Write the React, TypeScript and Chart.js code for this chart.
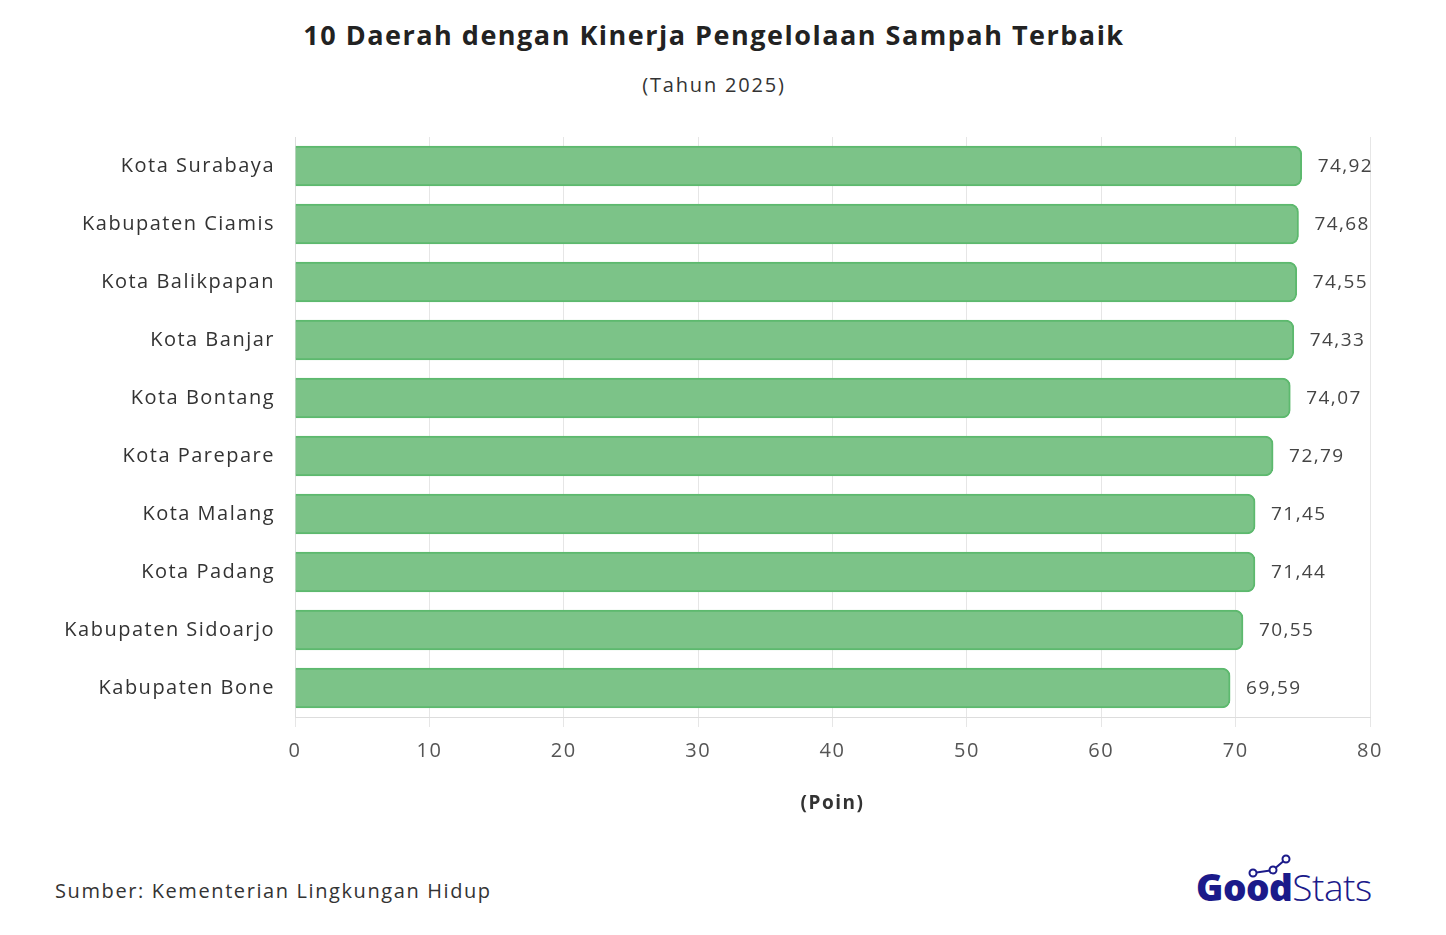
import React, { useEffect, useRef } from "react";
import { Chart, registerables } from "chart.js";

Chart.register(...registerables);

const categories = [
  "Kota Surabaya",
  "Kabupaten Ciamis",
  "Kota Balikpapan",
  "Kota Banjar",
  "Kota Bontang",
  "Kota Parepare",
  "Kota Malang",
  "Kota Padang",
  "Kabupaten Sidoarjo",
  "Kabupaten Bone",
];
const values = [74.92, 74.68, 74.55, 74.33, 74.07, 72.79, 71.45, 71.44, 70.55, 69.59];
const xTicks = [0, 10, 20, 30, 40, 50, 60, 70, 80];

const titleText = "10 Daerah dengan Kinerja Pengelolaan Sampah Terbaik";
const subtitleText = "(Tahun 2025)";
const axisTitle = "(Poin)";
const sourceText = "Sumber: Kementerian Lingkungan Hidup";

const FONT = "'Open Sans', 'Noto Sans', sans-serif";

const spacingPlugin = {
  id: "letterSpacing",
  beforeDraw(chart: any) {
    (chart.ctx as any).letterSpacing = "1.5px";
  },
};

const valueLabelPlugin = {
  id: "valueLabels",
  afterDatasetsDraw(chart: any) {
    const ctx = chart.ctx;
    const meta = chart.getDatasetMeta(0);
    ctx.save();
    (ctx as any).letterSpacing = "1.4px";
    ctx.font = `19px ${FONT}`;
    ctx.fillStyle = "#444";
    ctx.textAlign = "left";
    ctx.textBaseline = "middle";
    meta.data.forEach((bar: any, i: number) => {
      const v = values[i];
      ctx.fillText(v.toFixed(2).replace(".", ","), bar.x + 16, bar.y + 1);
    });
    ctx.restore();
  },
};

export default function App() {
  const ref = useRef<HTMLCanvasElement | null>(null);
  useEffect(() => {
    if (!ref.current) return;
    const chart = new Chart(ref.current, {
      type: "bar",
      data: {
        labels: categories,
        datasets: [
          {
            data: values,
            backgroundColor: "#7CC388",
            borderColor: "#5DB96E",
            borderWidth: 2,
            borderRadius: 8,
            borderSkipped: "start",
            barThickness: 40,
          },
        ],
      },
      options: {
        indexAxis: "y",
        responsive: false,
        animation: false,
        layout: { padding: { left: 0, right: 76, top: 137, bottom: 0 } },
        plugins: {
          legend: { display: false },
          tooltip: { enabled: false },
        },
        scales: {
          x: {
            min: 0,
            max: 80,
            afterBuildTicks(scale: any) {
              scale.ticks = xTicks.map((v) => ({ value: v }));
            },
            afterFit(scale: any) {
              scale.height = 98;
            },
            grid: { color: "#e6e6e6", tickLength: 10, lineWidth: 1 },
            border: { display: true, color: "#dddddd" },
            ticks: {
              font: { family: FONT, size: 20 },
              color: "#555",
              padding: 12,
            },
            title: {
              display: true,
              text: axisTitle,
              font: { family: FONT, size: 19, weight: "bold" },
              color: "#333",
              padding: { top: 0, bottom: 0 },
            },
          },
          y: {
            afterFit(scale: any) {
              scale.width = 295;
            },
            grid: { display: false, drawTicks: false },
            border: { display: true, color: "#dddddd" },
            ticks: {
              font: { family: FONT, size: 20 },
              color: "#333",
              padding: 20,
            },
          },
        },
      },
      plugins: [spacingPlugin, valueLabelPlugin],
    });
    return () => chart.destroy();
  }, []);

  return (
    <div
      style={{
        position: "absolute",
        left: 0,
        top: 0,
        width: 1446,
        height: 935,
        background: "#fff",
        overflow: "hidden",
        fontFamily: FONT,
      }}
    >
      <div
        style={{
          position: "absolute",
          left: 0,
          width: 1428,
          top: 16,
          textAlign: "center",
          fontSize: 27,
          fontWeight: 700,
          color: "#222",
          lineHeight: "38px",
          letterSpacing: "1.5px",
        }}
      >
        {titleText}
      </div>
      <div
        style={{
          position: "absolute",
          left: 0,
          width: 1428,
          top: 71,
          textAlign: "center",
          fontSize: 20,
          color: "#333",
          lineHeight: "28px",
          letterSpacing: "1.8px",
        }}
      >
        {subtitleText}
      </div>
      <canvas
        ref={ref}
        width={1446}
        height={815}
        style={{ position: "absolute", left: 0, top: 0, width: 1446, height: 815 }}
      />
      <div
        style={{
          position: "absolute",
          left: 55,
          top: 877,
          fontSize: 20,
          color: "#333",
          lineHeight: "28px",
          letterSpacing: "1.6px",
        }}
      >
        {sourceText}
      </div>
      <div
        style={{
          position: "absolute",
          left: 1196,
          top: 863,
          fontSize: 37,
          color: "#1B1A8A",
          lineHeight: "48px",
          letterSpacing: "-0.5px",
        }}
      >
        <span style={{ fontWeight: 800 }}>Good</span>
        <span style={{ fontWeight: 300 }}>Stats</span>
      </div>
      <svg
        width={80}
        height={40}
        style={{ position: "absolute", left: 1240, top: 850 }}
      >
        <polyline
          points="13,23 33,20 46,9"
          fill="none"
          stroke="#1B1A8A"
          strokeWidth={2}
        />
        {[
          [13, 23],
          [33, 20],
          [46, 9],
        ].map(([cx, cy], i) => (
          <circle key={i} cx={cx} cy={cy} r={3.5} fill="#fff" stroke="#1B1A8A" strokeWidth={2} />
        ))}
      </svg>
    </div>
  );
}
